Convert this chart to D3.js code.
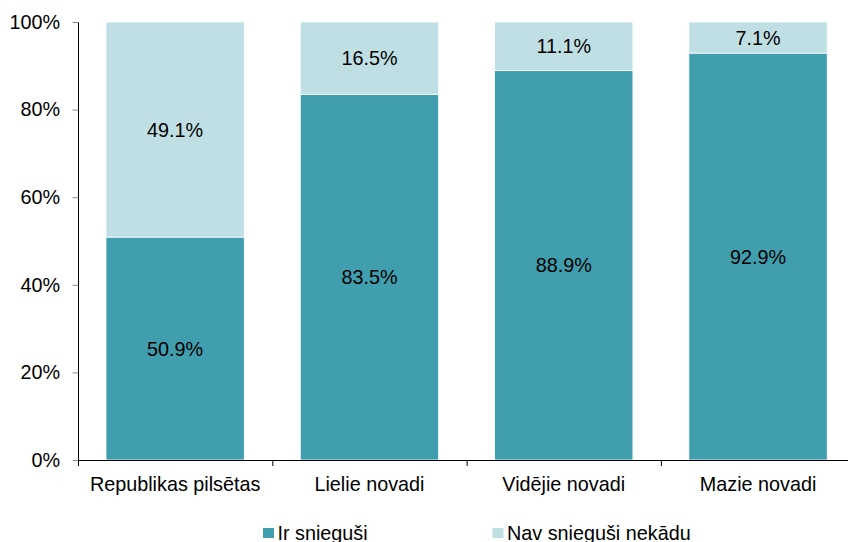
<!DOCTYPE html>
<html>
<head>
<meta charset="utf-8">
<script src="https://cdn.jsdelivr.net/npm/d3@7"></script>
<style>
  html, body { margin: 0; padding: 0; background: #fff; }
  svg { display: block; font-family: "Liberation Sans", Arial, sans-serif; }
</style>
</head>
<body>
<svg id="chart" width="848" height="542"></svg>
<script>
// Categories and shares (percent) for each group
const categories = ["Republikas pilsētas", "Lielie novadi", "Vidējie novadi", "Mazie novadi"];
const irSniegusi = [50.9, 83.5, 88.9, 92.9];
const navSniegusi = [49.1, 16.5, 11.1, 7.1];
const seriesNames = ["Ir snieguši", "Nav snieguši nekādu"];
const yTicks = [0, 20, 40, 60, 80, 100];

const colors = ["#409EAF", "#C0DFE4"];
const fontSize = 19.8;

const svg = d3.select("#chart");
const plotLeft = 78, plotTop = 22, plotBottom = 460;
const step = 194.3;

const x = d3.scaleBand()
  .domain(categories)
  .range([plotLeft, plotLeft + step * categories.length])
  .paddingInner(0.288)
  .paddingOuter(0.144);

const y = d3.scaleLinear().domain([0, 100]).range([plotBottom, plotTop]);

// Stack the two series
const rows = categories.map((c, i) => ({ cat: c, a: irSniegusi[i], b: navSniegusi[i] }));
const stack = d3.stack().keys(["a", "b"]);
const layers = stack(rows);

const g = svg.append("g");
layers.forEach((layer, li) => {
  g.selectAll(null)
    .data(layer)
    .join("rect")
    .attr("x", d => x(d.data.cat))
    .attr("width", x.bandwidth())
    .attr("y", d => y(d[1]))
    .attr("height", d => y(d[0]) - y(d[1]))
    .attr("fill", colors[li])
    .attr("stroke", "#fff")
    .attr("stroke-width", 0.8);

  g.selectAll(null)
    .data(layer)
    .join("text")
    .attr("x", d => x(d.data.cat) + x.bandwidth() / 2)
    .attr("y", d => (y(d[0]) + y(d[1])) / 2)
    .attr("dy", "0.36em")
    .attr("text-anchor", "middle")
    .attr("font-size", fontSize)
    .attr("fill", "#000")
    .text(d => (d[1] - d[0]).toFixed(1) + "%");
});

// Y axis
const yAxis = d3.axisLeft(y)
  .tickValues(yTicks)
  .tickSize(6)
  .tickPadding(12)
  .tickFormat(d => d + "%");
const yg = svg.append("g").attr("transform", `translate(${plotLeft},0)`).call(yAxis);
yg.select(".domain").attr("stroke", "#000").attr("d", `M0.5,${plotTop}V${plotBottom}`);
yg.selectAll(".tick line").attr("stroke", "#888").attr("transform", "translate(0.5,0)");
yg.selectAll(".tick text").attr("font-size", fontSize).attr("fill", "#000")
  .attr("font-family", "Liberation Sans, Arial, sans-serif");

// X axis baseline with ticks at band boundaries
const xg = svg.append("g");
xg.append("line")
  .attr("x1", plotLeft).attr("x2", 848)
  .attr("y1", plotBottom + 0.5).attr("y2", plotBottom + 0.5)
  .attr("stroke", "#000").attr("stroke-width", 1.2);
const bounds = d3.range(categories.length + 1).map(i => plotLeft + i * x.step());
xg.selectAll(null)
  .data(bounds)
  .join("line")
  .attr("x1", d => d + 0.5).attr("x2", d => d + 0.5)
  .attr("y1", plotBottom).attr("y2", plotBottom + 6)
  .attr("stroke", "#000");
xg.selectAll(null)
  .data(categories)
  .join("text")
  .attr("x", d => x(d) + x.bandwidth() / 2)
  .attr("y", 491)
  .attr("text-anchor", "middle")
  .attr("font-size", fontSize)
  .attr("fill", "#000")
  .text(d => d);

// Legend
const legendX = [263, 492.5];
const legend = svg.append("g");
seriesNames.forEach((name, i) => {
  legend.append("rect")
    .attr("x", legendX[i]).attr("y", 528)
    .attr("width", 11).attr("height", 10)
    .attr("fill", colors[i]);
  legend.append("text")
    .attr("x", legendX[i] + 14.5).attr("y", 540)
    .attr("font-size", fontSize)
    .attr("fill", "#000")
    .text(name);
});
</script>
</body>
</html>
